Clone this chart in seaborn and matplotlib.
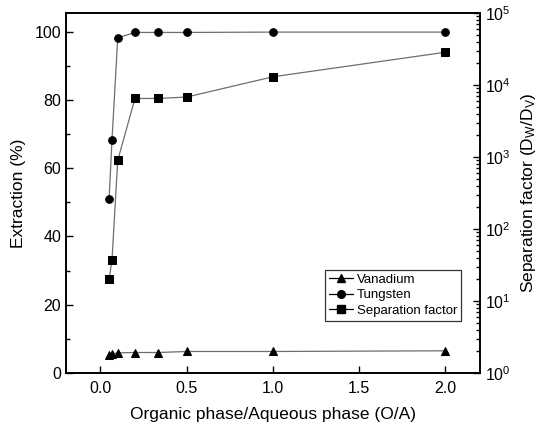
import matplotlib
matplotlib.use("Agg")
import matplotlib.pyplot as plt
import seaborn as sns
import numpy as np
import pandas as pd
from matplotlib.lines import Line2D
from matplotlib.ticker import MultipleLocator, LogLocator, NullFormatter

oa_ratio = [0.05, 0.0667, 0.1, 0.2, 0.333, 0.5, 1.0, 2.0]
vanadium = [5.2, 5.6, 5.9, 6.0, 6.0, 6.3, 6.3, 6.5]
tungsten = [51.1, 68.3, 98.2, 99.8, 99.8, 99.8, 99.9, 99.9]
separation = [20, 37, 900, 6500, 6500, 6800, 13000, 28500]

sns.set_style("ticks")
plt.rcParams['font.family'] = ['Liberation Sans', 'DejaVu Sans']
plt.rcParams['mathtext.fontset'] = 'custom'
plt.rcParams['mathtext.rm'] = 'Liberation Sans'
plt.rcParams['mathtext.it'] = 'Liberation Sans'
plt.rcParams['text.color'] = 'black'
plt.rcParams['axes.labelcolor'] = 'black'
plt.rcParams['xtick.color'] = 'black'
plt.rcParams['ytick.color'] = 'black'

df = pd.DataFrame({"x": oa_ratio, "V": vanadium, "W": tungsten, "S": separation})

fig = plt.figure(figsize=(5.41, 4.30), dpi=100)
ax = fig.add_axes([0.122, 0.1326, 0.765, 0.8372])
ax2 = ax.twinx()

line_kw = dict(color="#6e6e6e", linewidth=0.9, markersize=5.5,
               markerfacecolor="black", markeredgecolor="black", legend=False)
sns.lineplot(data=df, x="x", y="V", ax=ax, marker="^", **line_kw)
sns.lineplot(data=df, x="x", y="W", ax=ax, marker="o", **line_kw)
sns.lineplot(data=df, x="x", y="S", ax=ax2, marker="s", **line_kw)

ax.set_xlim(-0.2, 2.2)
ax.set_ylim(0, 105.5)
ax2.set_yscale("log")
ax2.set_ylim(1, 1e5)

ax.set_xticks(np.arange(0, 2.01, 0.5))
ax.set_xticklabels(["0.0", "0.5", "1.0", "1.5", "2.0"])
ax.yaxis.set_major_locator(MultipleLocator(20))
ax.yaxis.set_minor_locator(MultipleLocator(10))
ax2.yaxis.set_major_locator(LogLocator(base=10, numticks=10))
ax2.yaxis.set_minor_locator(LogLocator(base=10, subs=np.arange(2, 10), numticks=10))
ax2.yaxis.set_minor_formatter(NullFormatter())

ax.tick_params(axis="both", which="both", direction="in", labelsize=11.5, width=1)
ax.tick_params(axis="both", which="major", length=5)
ax.tick_params(axis="both", which="minor", length=3)
ax.tick_params(axis="x", pad=6)
ax2.tick_params(axis="y", which="both", direction="in", labelsize=11.5, width=1)
ax2.tick_params(axis="y", which="major", length=5)
ax2.tick_params(axis="y", which="minor", length=3)

ax.set_xlabel("Organic phase/Aqueous phase (O/A)", fontsize=12.5, labelpad=8)
ax.set_ylabel("Extraction (%)", fontsize=12.5, labelpad=6)
ax2.set_ylabel(r"Separation factor (D$_\mathregular{W}$/D$_\mathregular{V}$)", fontsize=12.5, labelpad=6)

for a in (ax, ax2):
    for s in a.spines.values():
        s.set_linewidth(1.2)
        s.set_color("black")

handles = [
    Line2D([], [], color="black", linewidth=0.9, marker=m, markersize=5.5,
           markerfacecolor="black", markeredgecolor="black")
    for m in ["^", "o", "s"]
]
labels = ["Vanadium", "Tungsten", "Separation factor"]
leg = ax2.legend(handles, labels, loc="lower right", bbox_to_anchor=(0.955, 0.145),
                 fontsize=9.5, frameon=True, fancybox=False, edgecolor="black",
                 handlelength=1.8, handletextpad=0.3, borderpad=0.3, labelspacing=0.25,
                 borderaxespad=0)
leg.get_frame().set_linewidth(0.9)

fig.savefig("out.png", dpi=100)
